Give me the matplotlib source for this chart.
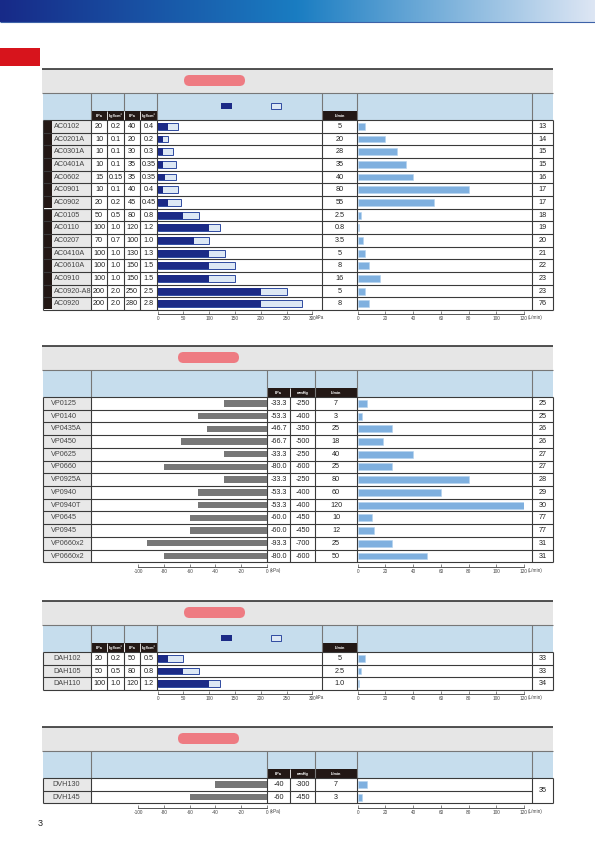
import numpy as np
import matplotlib.pyplot as plt
from matplotlib.patches import Rectangle, FancyBboxPatch
from matplotlib.colors import LinearSegmentedColormap

plt.rcParams['font.family'] = ['Liberation Sans', 'DejaVu Sans']

# ---- data ----
ac_models = ['AC0102', 'AC0201A', 'AC0301A', 'AC0401A', 'AC0602', 'AC0901', 'AC0902',
             'AC0105', 'AC0110', 'AC0207', 'AC0410A', 'AC0610A', 'AC0910', 'AC0920-A8', 'AC0920']
ac_cont_kpa = [20, 10, 10, 10, 15, 10, 20, 50, 100, 70, 100, 100, 100, 200, 200]
ac_cont_kgf = ['0.2', '0.1', '0.1', '0.1', '0.15', '0.1', '0.2', '0.5', '1.0', '0.7', '1.0', '1.0', '1.0', '2.0', '2.0']
ac_max_kpa = [40, 20, 30, 35, 35, 40, 45, 80, 120, 100, 130, 150, 150, 250, 280]
ac_max_kgf = ['0.4', '0.2', '0.3', '0.35', '0.35', '0.4', '0.45', '0.8', '1.2', '1.0', '1.3', '1.5', '1.5', '2.5', '2.8']
ac_flow = [5, 20, 28, 35, 40, 80, 55, 2.5, 0.8, 3.5, 5, 8, 16, 5, 8]
ac_page = ['13', '14', '15', '15', '16', '17', '17', '18', '19', '20', '21', '22', '23', '23', '76']

vp_models = ['VP0125', 'VP0140', 'VP0435A', 'VP0450', 'VP0625', 'VP0660', 'VP0925A',
             'VP0940', 'VP0940T', 'VP0645', 'VP0945', 'VP0660x2', 'VP0660x2']
vp_kpa = [-33.3, -53.3, -46.7, -66.7, -33.3, -80.0, -33.3, -53.3, -53.3, -60.0, -60.0, -93.3, -80.0]
vp_mmhg = [-250, -400, -350, -500, -250, -600, -250, -400, -400, -450, -450, -700, -600]
vp_flow = [7, 3, 25, 18, 40, 25, 80, 60, 120, 10, 12, 25, 50]
vp_page = ['25', '25', '26', '26', '27', '27', '28', '29', '30', '77', '77', '31', '31']

dah_models = ['DAH102', 'DAH105', 'DAH110']
dah_cont_kpa = [20, 50, 100]
dah_cont_kgf = ['0.2', '0.5', '1.0']
dah_max_kpa = [50, 80, 120]
dah_max_kgf = ['0.5', '0.8', '1.2']
dah_flow = [5, 2.5, 1.0]
dah_flow_lbl = ['5', '2.5', '1.0']
dah_page = ['33', '33', '34']

dvh_models = ['DVH130', 'DVH145']
dvh_kpa = [-40, -60]
dvh_mmhg = [-300, -450]
dvh_flow = [7, 3]
dvh_page = ['35']

press_ticks = [0, 50, 100, 150, 200, 250, 300]
vac_ticks = [-100, -80, -60, -40, -20, 0]
flow_ticks = [0, 20, 40, 60, 80, 100, 120]

# ---- page setup ----
W, H = 595, 841
fig = plt.figure(figsize=(W / 100, H / 100), dpi=100)
bg = fig.add_axes([0, 0, 1, 1])

grad = LinearSegmentedColormap.from_list('hdr', ['#172a88', '#1a7dc2', '#dde6f4'])
bg.imshow(np.linspace(0, 1, 256)[None, :], cmap=grad, extent=(0, W, 22, 0), aspect='auto', zorder=0)
bg.set_xlim(0, W)
bg.set_ylim(H, 0)
bg.axis('off')

DARK = '#231815'
LINE = '#3a3a3a'
BLUE_HDR = '#c6dded'
NAVY = '#1b2a86'
FLOW_C = '#7fb0df'


def rect(x0, y0, x1, y1, color, **kw):
    bg.add_patch(Rectangle((x0, y0), x1 - x0, y1 - y0, facecolor=color, edgecolor='none', **kw))


def hline(y, x0, x1, c=LINE, lw=0.8):
    bg.plot([x0, x1], [y, y], color=c, lw=lw, solid_capstyle='butt')


def vline(x, y0, y1, c=LINE, lw=0.8):
    bg.plot([x, x], [y0, y1], color=c, lw=lw, solid_capstyle='butt')


def txt(x, y, s, size=5.2, color='#222222', ha='center', **kw):
    bg.text(x, y, s, fontsize=size, color=color, ha=ha, va='center', **kw)


# header bar line and red tab
hline(22, 0, W, '#3d62a8', 0.8)
rect(0, 48, 40, 66, '#d7141c')


def frame(line_y, pill_x):
    rect(42, line_y, 553, line_y + 24, '#e6e6e6')
    hline(line_y, 42, 553, '#333333', 1.2)
    bg.add_patch(FancyBboxPatch((pill_x, line_y + 6), 61, 11,
                                boxstyle='round,pad=0,rounding_size=5.5',
                                facecolor='#ee7b82', edgecolor='none'))


def chart_axes(x0, x1, top, bottom, n, xlim, ticks, unit, unit_x):
    ax = fig.add_axes([x0 / W, 1 - bottom / H, (x1 - x0) / W, (bottom - top) / H])
    ax.set_xlim(*xlim)
    ax.set_ylim(n - 0.5, -0.5)
    ax.patch.set_alpha(0)
    for s in ['top', 'left', 'right']:
        ax.spines[s].set_visible(False)
    ax.spines['bottom'].set_position(('outward', 3))
    ax.spines['bottom'].set_color('#555555')
    ax.spines['bottom'].set_linewidth(0.7)
    ax.set_yticks([])
    ax.set_xticks(ticks)
    ax.set_xticklabels([str(t) for t in ticks], fontsize=3.4, color='#444444')
    ax.tick_params(axis='x', direction='in', length=2, width=0.5, pad=1.5, colors='#555555')
    for lab in ax.get_xticklabels():
        lab.set_color('#444444')
    txt(unit_x, bottom + 7.8, unit, size=3.4, color='#444444', ha='left')
    return ax


def flow_chart(top, bottom, flows):
    n = len(flows)
    ax = chart_axes(357.7, 524, top, bottom, n, (0, 120), flow_ticks, '(L/min)', 528)
    ax.barh(range(n), flows, height=0.55, color=FLOW_C, edgecolor='#b5d2ee', linewidth=0.4)


def pressure_section(line_y, pill_x, models, ckpa, ckgf, mkpa, mkgf, flows, flow_lbl, pages,
                     strips=None, center_names=False):
    frame(line_y, pill_x)
    ht = line_y + 24
    rt = ht + 27
    n = len(models)
    rh = 12.67
    yb = rt + n * rh
    # header
    rect(43, ht, 553, rt, BLUE_HDR)
    rect(91, ht + 18, 157, rt, DARK)
    rect(322, ht + 18, 357, rt, DARK)
    for x in [91, 124, 157, 322, 357, 532]:
        vline(x, ht, rt, '#777777', 0.8)
    for x in [107, 124, 140]:
        vline(x, ht + 18, rt, 'white', 0.6)
    for x, s in [(99, 'kPa'), (115.5, 'kgf/cm²'), (132, 'kPa'), (148.5, 'kgf/cm²'), (339.5, 'L/min')]:
        txt(x, ht + 22.6, s, size=2.8, color='white', fontweight='bold')
    rect(221, ht + 10, 232, ht + 16, NAVY)
    bg.add_patch(Rectangle((271, ht + 10), 10, 6, facecolor='#dde8f5', edgecolor='#2f4aa0', lw=0.7))
    hline(ht, 42, 553, '#777777', 0.8)
    # body
    x_name = 52 if strips else 43
    rect(x_name, rt, 91, yb, '#e8e8e8')
    if strips:
        for a, b in strips:
            rect(43, rt + a * rh + 0.6, 52, rt + b * rh - 0.6, DARK)
    for i in range(n):
        yc = rt + (i + 0.5) * rh
        if center_names:
            txt(67, yc, models[i], color='#444444')
        else:
            txt(54, yc, models[i], color='#444444', ha='left')
        txt(99, yc, str(ckpa[i]))
        txt(115.5, yc, ckgf[i])
        txt(132, yc, str(mkpa[i]))
        txt(148.5, yc, mkgf[i])
        txt(339.5, yc, flow_lbl[i])
        txt(542.5, yc, pages[i])
    for i in range(n + 1):
        hline(rt + i * rh, 43, 553)
    for x in [43, 91, 107, 124, 140, 157, 322, 357, 532, 553]:
        vline(x, rt, yb)
    # charts
    ax = chart_axes(157.7, 312.3, rt, yb, n, (0, 300), press_ticks, 'kPa', 316)
    ax.barh(range(n), mkpa, height=0.55, color='#dde8f5', edgecolor='#2f4aa0', linewidth=0.7)
    ax.barh(range(n), ckpa, height=0.55, color=NAVY)
    flow_chart(rt, yb, flows)


def vacuum_section(line_y, pill_x, models, kpa, mmhg, flows, pages, center_names=False):
    frame(line_y, pill_x)
    ht = line_y + 24
    rt = ht + 27
    n = len(models)
    rh = 12.72
    yb = rt + n * rh
    rect(43, ht, 553, rt, BLUE_HDR)
    rect(267, ht + 18, 357, rt, DARK)
    for x in [91, 267, 315, 357, 532]:
        vline(x, ht, rt, '#777777', 0.8)
    vline(290, ht + 18, rt, 'white', 0.6)
    for x, s in [(278.5, 'kPa'), (302.5, 'mmHg'), (336, 'L/min')]:
        txt(x, ht + 22.6, s, size=2.8, color='white', fontweight='bold')
    hline(ht, 42, 553, '#777777', 0.8)
    rect(43, rt, 91, yb, '#e8e8e8')
    for i in range(n):
        yc = rt + (i + 0.5) * rh
        if center_names:
            txt(66, yc, models[i], color='#444444')
        else:
            txt(51, yc, models[i], color='#444444', ha='left')
        txt(278.5, yc, f'{kpa[i]:.1f}' if isinstance(kpa[i], float) else str(kpa[i]))
        txt(302.5, yc, str(mmhg[i]))
        txt(336, yc, str(flows[i]))
    merged = len(pages) == 1 and n > 1
    if merged:
        txt(542.5, rt + n * rh / 2, pages[0])
    else:
        for i in range(n):
            txt(542.5, rt + (i + 0.5) * rh, pages[i])
    for i in range(n + 1):
        x_end = 532 if (merged and 0 < i < n) else 553
        hline(rt + i * rh, 43, x_end)
    for x in [43, 91, 267, 290, 315, 357, 532, 553]:
        vline(x, rt, yb)
    ax = chart_axes(138.3, 266.7, rt, yb, n, (-100, 0), vac_ticks, '(kPa)', 269.5)
    ax.barh(range(n), kpa, height=0.5, color='#777777')
    flow_chart(rt, yb, flows)


pressure_section(69, 184, ac_models, ac_cont_kpa, ac_cont_kgf, ac_max_kpa, ac_max_kgf,
                 ac_flow, [f'{v:g}' for v in ac_flow], ac_page, strips=[(0, 7), (7, 15)])
vacuum_section(346, 178, vp_models, vp_kpa, vp_mmhg, vp_flow, vp_page)
pressure_section(601, 184, dah_models, dah_cont_kpa, dah_cont_kgf, dah_max_kpa, dah_max_kgf,
                 dah_flow, dah_flow_lbl, dah_page, center_names=True)
vacuum_section(727, 178, dvh_models, dvh_kpa, dvh_mmhg, dvh_flow, dvh_page, center_names=True)

txt(38, 824, '3', size=6.5, color='#222222', ha='left')

fig.savefig('out.png', dpi=100)
